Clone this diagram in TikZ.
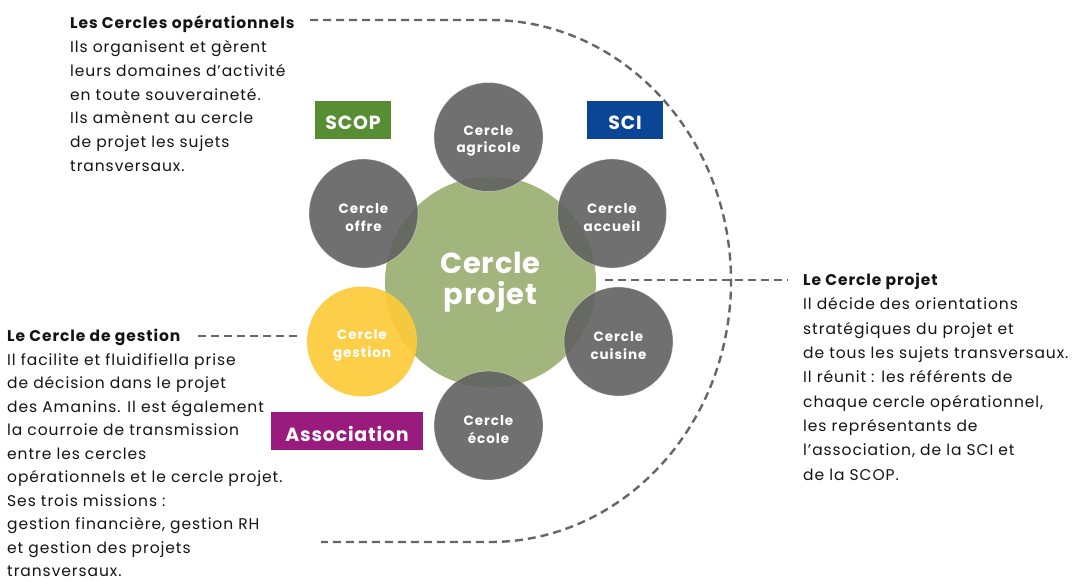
\documentclass[tikz,border=0pt]{standalone}
\usepackage{fontspec}
\setmainfont{Poppins}
\definecolor{txt}{HTML}{141414}
\definecolor{dashgray}{HTML}{666666}
\definecolor{cgray}{HTML}{616161}
\definecolor{cgreen}{HTML}{A2B57C}
\definecolor{cyellow}{HTML}{FDCB3A}
\definecolor{scopgreen}{HTML}{578E34}
\definecolor{sciblue}{HTML}{0B4596}
\definecolor{assocpurple}{HTML}{991B7E}
\begin{document}
\begin{tikzpicture}[x=1pt,y=-1pt,
  dashline/.style={draw=dashgray,line width=2.4pt,dash pattern=on 8pt off 5pt},
  opcircle/.style={circle,inner sep=0pt,minimum size=109pt,fill=cgray,fill opacity=0.9,
    draw=white,draw opacity=0.35,line width=0.8pt},
  cirtext/.style={inner sep=0pt,text=white,align=center,
    font={\fontsize{13.5}{17.5}\selectfont\bfseries\addfontfeature{LetterSpace=7}}},
  tag/.style={inner sep=0pt,minimum height=38pt},
  tagtext/.style={inner sep=0pt,text=white,
    font={\fontsize{19}{20}\selectfont\bfseries\addfontfeature{LetterSpace=4}}},
  textblock/.style={anchor=north west,inner sep=0pt,align=left,text=txt,
    font={\fontsize{15.5}{23.8}\selectfont\addfontfeature{LetterSpace=6}}}]
\useasboundingbox (0,0) rectangle (1075,581);
\fill[white] (0,0) rectangle (1075,581);
% central circle
\node[circle,inner sep=0pt,minimum size=211pt,fill=cgreen,text=white,align=center,
  font={\fontsize{29}{31.5}\selectfont\bfseries\addfontfeature{LetterSpace=3}}] (projet) at (490.5,282) {Cercle\\projet};
\node[circle,inner sep=0pt,minimum size=110pt,fill=cyellow,fill opacity=0.92] (gestion) at (362,341.5) {};
\node[opcircle] (agricole) at (488.5,137) {};
\node[opcircle] (offre) at (363.5,213.5) {};
\node[opcircle] (accueil) at (612,213.5) {};
\node[opcircle] (cuisine) at (618.5,341.5) {};
\node[opcircle] (ecole) at (488.5,425.5) {};
\node[cirtext] (tgestion) at ([yshift=-4pt]gestion.center) {Cercle\\gestion};
\node[cirtext] (tagricole) at ([yshift=-4pt]agricole.center) {Cercle\\agricole};
\node[cirtext] (toffre) at ([yshift=-4pt]offre.center) {Cercle\\offre};
\node[cirtext] (taccueil) at ([yshift=-4pt]accueil.center) {Cercle\\accueil};
\node[cirtext] (tcuisine) at ([yshift=-4pt]cuisine.center) {Cercle\\cuisine};
\node[cirtext] (tecole) at ([yshift=-4pt]ecole.center) {Cercle\\école};
% tags
\node[tag,fill=scopgreen,minimum width=76pt] (scop) at (353,120) {};
\node[tag,fill=sciblue,minimum width=76pt] (sci) at (625,120) {};
\node[tag,fill=assocpurple,minimum width=152pt] (assoc) at (347,431) {};
\node[tagtext] (tscop) at ([yshift=-2.5pt]scop.center) {SCOP};
\node[tagtext] (tsci) at ([yshift=-2.5pt]sci.center) {SCI};
\node[tagtext] (tassoc) at ([yshift=-3pt]assoc.center) {Association};
% text blocks
\node[textblock] (tops) at (70,15.5) {\textbf{Les Cercles opérationnels}\\
Ils organisent et gèrent\\
leurs domaines d’activité\\
en toute souveraineté.\\
Ils amènent au cercle\\
de projet les sujets\\
transversaux.};
\node[textblock,font={\fontsize{15.5}{23.5}\selectfont\addfontfeature{LetterSpace=6}}] (gest) at (7,329) {\textbf{Le Cercle de gestion}\\
Il facilite et fluidifiella prise\\
de décision dans le projet\\
des Amanins. Il est également\\
la courroie de transmission\\
entre les cercles\\
opérationnels et le cercle projet.\\
Ses trois missions :\\
gestion financière, gestion RH\\
et gestion des projets\\
transversaux.};
\node[textblock,font={\fontsize{15.5}{24.3}\selectfont\addfontfeature{LetterSpace=6}}] (proj) at (803,273) {\textbf{Le Cercle projet}\\
Il décide des orientations\\
stratégiques du projet et\\
de tous les sujets transversaux.\\
Il réunit : les référents de\\
chaque cercle opérationnel,\\
les représentants de\\
l’association, de la SCI et\\
de la SCOP.};
% dashed connectors
\coordinate (tA) at (310,20);
\coordinate (tB) at (490,20);
\coordinate (bE) at (321,542);
\draw[dashline] (tA) -- (tB) arc[start angle=90,end angle=-90,x radius=241pt,y radius=261pt] -- (bE);
\coordinate (pA) at (605,280);
\coordinate (pB) at (788,280);
\draw[dashline] (pA) -- (pB);
\coordinate (gA) at (198,336);
\coordinate (gB) at (300,336);
\draw[dashline] (gA) -- (gB);
\end{tikzpicture}
\end{document}
